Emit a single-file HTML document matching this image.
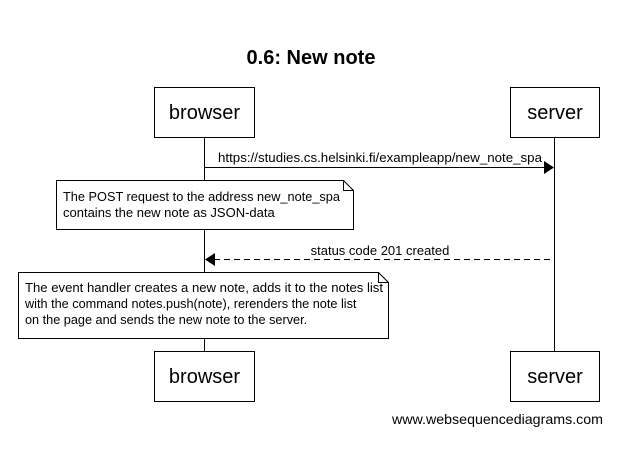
<!DOCTYPE html>
<html><head><style>body{margin:0;background:#fff}</style></head><body>
<svg width="629" height="447" xmlns="http://www.w3.org/2000/svg" font-family="Liberation Sans, Arial, sans-serif">
<rect width="629" height="447" fill="#fff"/>
<text x="311" y="64" text-anchor="middle" font-size="20" font-weight="bold">0.6: New note</text>
<line x1="204.5" y1="137" x2="204.5" y2="351" stroke="#000"/>
<line x1="554.5" y1="137" x2="554.5" y2="351" stroke="#000"/>
<rect x="154.5" y="87.5" width="100" height="50" fill="#fff" stroke="#000"/>
<text x="204.5" y="119" text-anchor="middle" font-size="20">browser</text>
<rect x="510.5" y="87.5" width="89" height="50" fill="#fff" stroke="#000"/>
<text x="555" y="119" text-anchor="middle" font-size="20">server</text>
<rect x="154.5" y="351.5" width="100" height="50" fill="#fff" stroke="#000"/>
<text x="204.5" y="383" text-anchor="middle" font-size="20">browser</text>
<rect x="510.5" y="351.5" width="89" height="50" fill="#fff" stroke="#000"/>
<text x="555" y="383" text-anchor="middle" font-size="20">server</text>
<line x1="205" y1="167.5" x2="545" y2="167.5" stroke="#000"/>
<polygon points="544,161 554,167.5 544,174" fill="#000"/>
<text x="218" y="162" font-size="13" textLength="324" lengthAdjust="spacingAndGlyphs">https://studies.cs.helsinki.fi/exampleapp/new_note_spa</text>
<path d="M56.5 180.5 H343.5 L353.5 190.5 V229.5 H56.5 Z" fill="#fff" stroke="#000"/>
<path d="M343.5 180.5 V190.5 H353.5" fill="none" stroke="#000"/>
<text x="63" y="201" font-size="13" textLength="277" lengthAdjust="spacingAndGlyphs">The POST request to the address new_note_spa</text>
<text x="63" y="217" font-size="13">contains the new note as JSON-data</text>
<line x1="214" y1="259.5" x2="554" y2="259.5" stroke="#000" stroke-dasharray="6,4"/>
<polygon points="215,253 205,259.5 215,266" fill="#000"/>
<text x="380" y="255" text-anchor="middle" font-size="13">status code 201 created</text>
<path d="M18.5 272.5 H378.5 L388.5 282.5 V338.5 H18.5 Z" fill="#fff" stroke="#000"/>
<path d="M378.5 272.5 V282.5 H388.5" fill="none" stroke="#000"/>
<text x="25" y="292" font-size="12.7" textLength="358" lengthAdjust="spacingAndGlyphs">The event handler creates a new note, adds it to the notes list</text>
<text x="25" y="308" font-size="12.7">with the command notes.push(note), rerenders the note list</text>
<text x="25" y="324" font-size="12.7">on the page and sends the new note to the server.</text>
<text x="603" y="424" text-anchor="end" font-size="14" textLength="211" lengthAdjust="spacingAndGlyphs">www.websequencediagrams.com</text>
</svg>
</body></html>
